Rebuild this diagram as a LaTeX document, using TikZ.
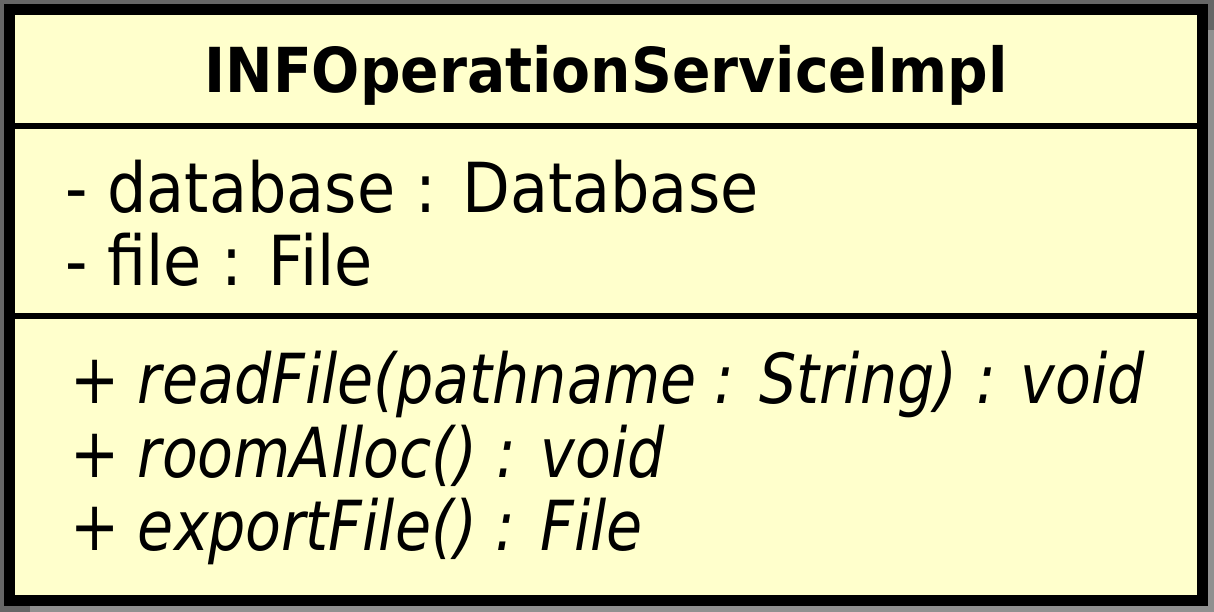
\documentclass[tikz,border=0pt]{standalone}
\usepackage{fontspec}
\setmainfont[FakeStretch=0.9]{DejaVu Sans}
\newfontfamily\titlefont[FakeStretch=0.915]{DejaVu Sans}
\newfontfamily\opfont[FakeStretch=0.85]{DejaVu Sans Oblique}
\definecolor{bggray}{RGB}{102,102,102}
\definecolor{shadowgray}{RGB}{144,144,144}
\definecolor{classfill}{RGB}{255,255,204}
\tikzset{
  px/.style={x=1pt,y=-1pt},
  titletext/.style={anchor=base,inner sep=0pt,font=\titlefont\fontsize{62}{62}\selectfont\bfseries},
  attrtext/.style={anchor=base west,inner sep=0pt,font=\fontsize{69}{69}\selectfont},
  optext/.style={anchor=base west,inner sep=0pt,font=\opfont\fontsize{69}{69}\selectfont},
}
\begin{document}
\begin{tikzpicture}[px]
\useasboundingbox (0,0) rectangle (1214,612);
\fill[bggray] (0,0) rectangle (1214,612);
\fill[shadowgray] (30,30) rectangle (1214,612);
\draw[line width=11pt,fill=classfill] (9.5,9.5) rectangle (1202.5,600.5);
\coordinate (d1l) at (15,126);
\coordinate (d1r) at (1197,126);
\coordinate (d2l) at (15,316);
\coordinate (d2r) at (1197,316);
\draw[line width=6.3pt] (d1l) -- (d1r);
\draw[line width=6.3pt] (d2l) -- (d2r);
\node[titletext] (title) at (606,93) {INFOperationServiceImpl};
\node[attrtext] (a1) at (65,213) {- database : Database};
\node[attrtext] (a2) at (65,285) {- file : File};
\node[optext] (m1) at (70,403) {+ readFile(pathname : String) : void};
\node[optext] (m2) at (70,477) {+ roomAlloc() : void};
\node[optext] (m3) at (70,550) {+ exportFile() : File};
\end{tikzpicture}
\end{document}
